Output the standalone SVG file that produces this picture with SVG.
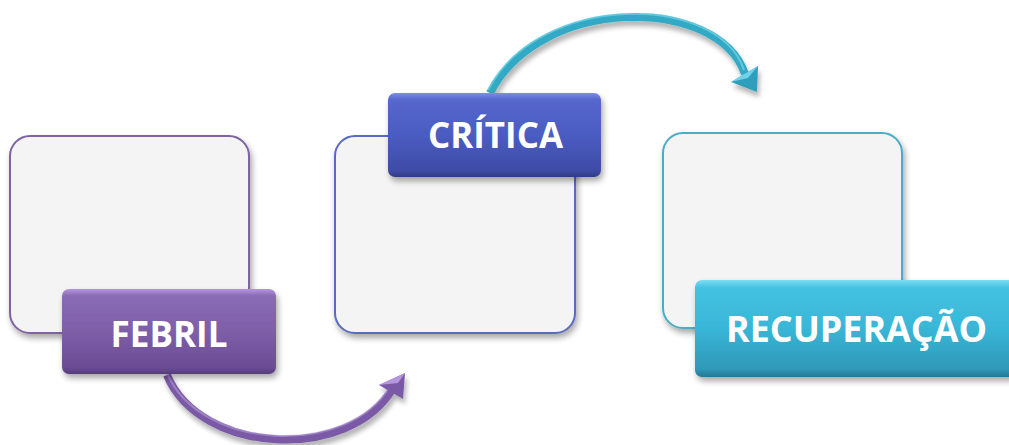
<svg xmlns="http://www.w3.org/2000/svg" width="1009" height="445" viewBox="0 0 1009 445">
<defs>
  <filter id="shadow" x="-10%" y="-10%" width="130%" height="140%">
    <feGaussianBlur in="SourceAlpha" stdDeviation="3"/>
    <feOffset dx="2" dy="4" result="b"/>
    <feComponentTransfer><feFuncA type="linear" slope="0.35"/></feComponentTransfer>
    <feMerge><feMergeNode/><feMergeNode in="SourceGraphic"/></feMerge>
  </filter>
  <filter id="ashadow" x="-10%" y="-20%" width="130%" height="150%">
    <feGaussianBlur in="SourceAlpha" stdDeviation="2.5"/>
    <feOffset dx="2" dy="5" result="b"/>
    <feComponentTransfer><feFuncA type="linear" slope="0.3"/></feComponentTransfer>
    <feMerge><feMergeNode/><feMergeNode in="SourceGraphic"/></feMerge>
  </filter>
  <linearGradient id="gPurple" x1="0" y1="0" x2="0" y2="1">
    <stop offset="0" stop-color="#B596DE"/>
    <stop offset="0.08" stop-color="#8A6BB5"/>
    <stop offset="0.5" stop-color="#7D5EA7"/>
    <stop offset="0.92" stop-color="#6B4D95"/>
    <stop offset="1" stop-color="#553C7A"/>
  </linearGradient>
  <linearGradient id="gBlue" x1="0" y1="0" x2="0" y2="1">
    <stop offset="0" stop-color="#7C8DEB"/>
    <stop offset="0.08" stop-color="#5567CC"/>
    <stop offset="0.5" stop-color="#4B5CC2"/>
    <stop offset="0.92" stop-color="#3E4CA6"/>
    <stop offset="1" stop-color="#313C86"/>
  </linearGradient>
  <linearGradient id="gTeal" x1="0" y1="0" x2="0" y2="1">
    <stop offset="0" stop-color="#7DDDF2"/>
    <stop offset="0.08" stop-color="#44C2E1"/>
    <stop offset="0.5" stop-color="#39B6D7"/>
    <stop offset="0.92" stop-color="#2F98B8"/>
    <stop offset="1" stop-color="#247893"/>
  </linearGradient>
  <style>
    .panel { fill: #F4F4F4; stroke-width: 2; }
    .label { filter: url(#shadow); }
    .ltext { font-family: "Open Sans", "Liberation Sans", sans-serif; font-weight: bold; font-size: 36px; fill: #FFFFFF; text-anchor: middle; }
    .shaft { fill: none; stroke-width: 8; stroke-linecap: butt; }
    .hl { fill: none; stroke-width: 2; opacity: 0.55; }
  </style>
</defs>

<g id="connectors">
  <g id="arrow-febril-critica" filter="url(#ashadow)">
    <path class="shaft" stroke="#7A5AA6" d="M167,375 C200,455 350,462 393,388"/>
    <path class="hl" stroke="#B9A0DC" d="M167,373 C200,451 348,458 390,386"/>
    <polygon points="379,385 405,373 403,399" fill="#7A5AA6"/>
    <polygon points="379,385 405,373 398,383" fill="#B596DE"/>
  </g>
  <g id="arrow-critica-recuperacao" filter="url(#ashadow)">
    <path class="shaft" stroke="#33A9C5" d="M490,93 C540,-5 718,-5 745,74"/>
    <path class="hl" stroke="#8EE0F2" d="M488,90 C538,-8 718,-8 744,70"/>
    <polygon points="731,82 758,66 757,92" fill="#2E9EBB"/>
    <polygon points="731,82 758,66 748,78" fill="#6FD2EA"/>
  </g>
</g>

<g id="node-febril">
  <rect class="panel" x="10" y="136" width="239" height="197" rx="20" stroke="#8064A2" filter="url(#shadow)"/>
  <rect class="label" x="62" y="289" width="214" height="85" rx="7" fill="url(#gPurple)"/>
  <text class="ltext" x="169" y="347" textLength="117" lengthAdjust="spacingAndGlyphs">FEBRIL</text>
</g>

<g id="node-critica">
  <rect class="panel" x="335" y="136" width="240" height="197" rx="20" stroke="#5A6BBF" filter="url(#shadow)"/>
  <rect class="label" x="388" y="93" width="213" height="84" rx="7" fill="url(#gBlue)"/>
  <text class="ltext" x="495.5" y="148" textLength="135" lengthAdjust="spacingAndGlyphs">CRÍTICA</text>
</g>

<g id="node-recuperacao">
  <rect class="panel" x="663" y="133" width="239" height="195" rx="20" stroke="#4BACC6" filter="url(#shadow)"/>
  <rect class="label" x="695" y="280" width="322" height="97" rx="7" fill="url(#gTeal)"/>
  <text class="ltext" x="856.5" y="342" textLength="261" lengthAdjust="spacingAndGlyphs">RECUPERAÇÃO</text>
</g>
</svg>
